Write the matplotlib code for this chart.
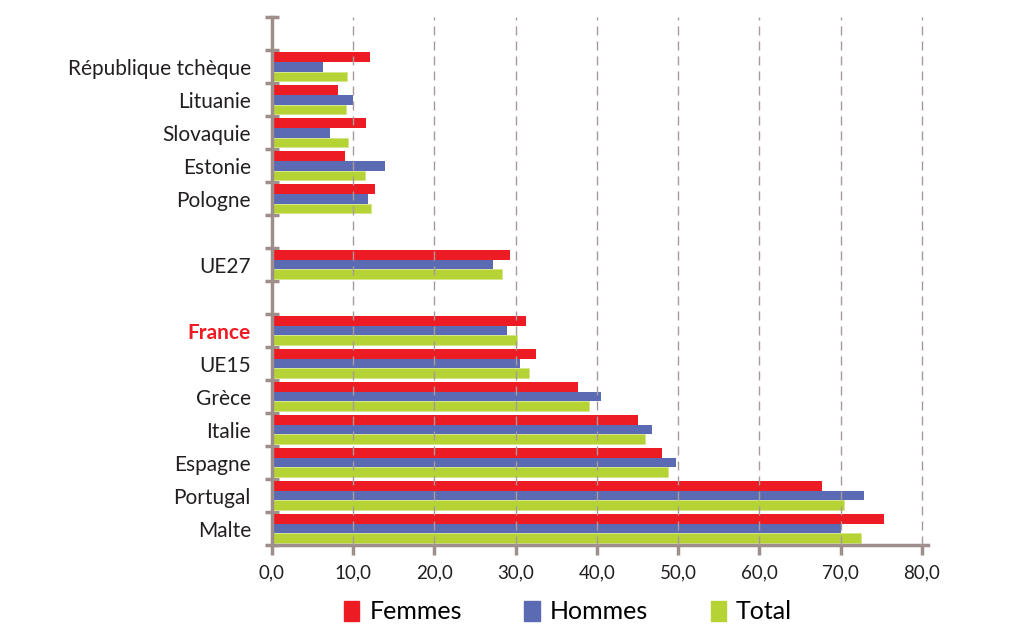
import matplotlib
matplotlib.use("Agg")
import matplotlib.pyplot as plt
import numpy as np
from matplotlib.patches import Patch

# categories from bottom to top; None = empty slot
categories = ["Malte", "Portugal", "Espagne", "Italie", "Grèce", "UE15", "France",
              None, "UE27", None,
              "Pologne", "Estonie", "Slovaquie", "Lituanie", "République tchèque"]
femmes = [75.3, 67.7, 48.0, 45.1, 37.7, 32.5, 31.3, None, 29.3, None, 12.7, 9.0, 11.6, 8.1, 12.1]
hommes = [70.0, 72.9, 49.8, 46.8, 40.5, 30.6, 29.0, None, 27.2, None, 11.8, 13.9, 7.1, 10.0, 6.3]
total = [72.5, 70.4, 48.7, 45.9, 39.0, 31.6, 30.2, None, 28.3, None, 12.2, 11.5, 9.4, 9.1, 9.2]

series_names = ["Femmes", "Hommes", "Total"]
colors = ["#ED1C24", "#5B6BB3", "#B5D334"]
axis_color = "#9E8F8C"
grid_color = "#A89A99"

plt.rcParams["font.family"] = ["Lato", "DejaVu Sans"]

fig = plt.figure(figsize=(10.18, 6.37), dpi=100)
ax = fig.add_axes([0.267, 0.1444, 0.645, 0.8286])

idx = [i for i, c in enumerate(categories) if c is not None]
pos = np.array(idx, dtype=float)
h = 0.295
for k, (vals, col) in enumerate(zip([femmes, hommes, total], colors)):
    v = [vals[i] for i in idx]
    edge = "#D4E58A" if k == 2 else col
    ax.barh(pos + (1 - k) * h, v, height=h, color=col, edgecolor=edge,
            linewidth=0.6 if k == 2 else 0, zorder=2)

ax.set_xlim(0, 80.8)
ax.set_ylim(-0.5, 15.5)

ax.set_xticks(np.arange(0, 81, 10))
ax.set_xticklabels([f"{x:.1f}".replace(".", ",") for x in np.arange(0, 81, 10)],
                   fontsize=13.5, color="#231F20")
for x in np.arange(10, 81, 10):
    ax.axvline(x, color=grid_color, linestyle=(0, (6.5, 4.3)), linewidth=1.0, zorder=3)

# y ticks at slot boundaries, labels at centres
ax.set_yticks(np.arange(-0.5, 15.6, 1.0))
ax.set_yticklabels([])
ax.set_yticks(pos, minor=True)
ax.set_yticklabels([categories[i] for i in idx], minor=True, fontsize=15, color="#231F20")
ax.tick_params(axis="y", which="minor", length=0, pad=15)
ax.tick_params(axis="y", which="major", direction="inout", length=10, width=2.5, color=axis_color)
ax.tick_params(axis="x", direction="out", length=7, width=2.5, color=axis_color, pad=7)

for lab in ax.get_yticklabels(minor=True):
    if lab.get_text() == "France":
        lab.set_color("#ED1C24")
        lab.set_fontweight("bold")

for s in ["top", "right"]:
    ax.spines[s].set_visible(False)
for s in ["left", "bottom"]:
    ax.spines[s].set_color(axis_color)
    ax.spines[s].set_linewidth(2.5)

handles = [Patch(facecolor=c, edgecolor=c) for c in colors]
fig.legend(handles, series_names, loc="lower center", bbox_to_anchor=(0.558, -0.014),
           ncol=3, frameon=False, fontsize=18, handlelength=0.62, handleheight=0.85,
           handletextpad=0.4, columnspacing=2.5)

fig.savefig("out.png", dpi=100)
